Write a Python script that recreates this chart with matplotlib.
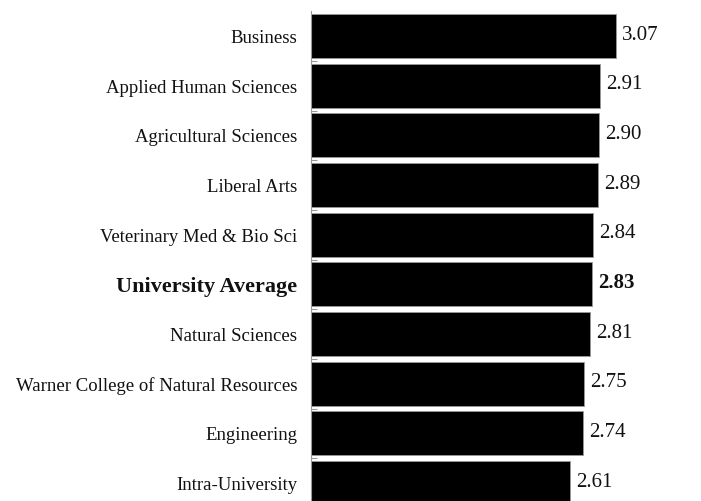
import matplotlib
matplotlib.use('Agg')
import matplotlib.pyplot as plt

# mean scores by college, top to bottom as shown
colleges = ['Business', 'Applied Human Sciences', 'Agricultural Sciences',
            'Liberal Arts', 'Veterinary Med & Bio Sci', 'University Average',
            'Natural Sciences', 'Warner College of Natural Resources',
            'Engineering', 'Intra-University']
scores = [3.07, 2.91, 2.90, 2.89, 2.84, 2.83, 2.81, 2.75, 2.74, 2.61]
highlight = 'University Average'

plt.rcParams['font.family'] = ['Liberation Serif', 'DejaVu Serif']

fig = plt.figure(figsize=(7.01, 5.02), dpi=100)
ax = fig.add_axes([0.4437, -0.0139, 0.552, 0.9896])

ypos = list(range(len(colleges)))
ax.barh(ypos, scores, height=0.885, color='black', edgecolor='#999999', linewidth=0.6)

for y, name, val in zip(ypos, colleges, scores):
    bold = name == highlight
    ax.text(-0.14, y + 0.03, name, ha='right', va='center',
            fontsize=16 if bold else 13.5,
            fontweight='bold' if bold else 'normal', color='#111111')
    ax.text(val + 0.06, y - 0.04, f'{val:.2f}', ha='left', va='center', fontsize=15,
            fontweight='bold' if bold else 'normal', color='#111111')

ax.set_xlim(0, 3.9)
ax.set_ylim(len(colleges) - 0.5, -0.5)
ax.set_xticks([])
ax.set_yticks([])
ax.set_yticks([i + 0.5 for i in range(len(colleges) - 1)], minor=True)
ax.tick_params(axis='y', which='minor', direction='in', length=4, color='#999999', width=0.8)
for side in ['top', 'right', 'bottom']:
    ax.spines[side].set_visible(False)
ax.spines['left'].set_color('#999999')
ax.spines['left'].set_linewidth(0.8)

fig.savefig('out.png', dpi=100)
